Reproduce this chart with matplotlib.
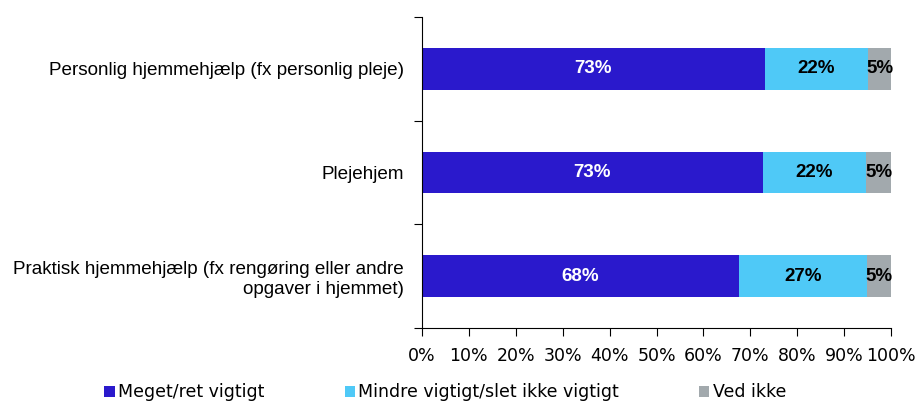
import matplotlib.pyplot as plt

# Data
categories = ['Personlig hjemmehjælp (fx personlig pleje)',
              'Plejehjem',
              'Praktisk hjemmehjælp (fx rengøring eller andre\nopgaver i hjemmet)']
meget = [73.1, 72.6, 67.6]
mindre = [22.0, 22.1, 27.3]
ved_ikke = [4.9, 5.3, 5.1]
series_names = ['Meget/ret vigtigt', 'Mindre vigtigt/slet ikke vigtigt', 'Ved ikke']
colors = ['#2A19CC', '#4FC9F7', '#A2A9AD']

plt.rcParams['font.family'] = ['Liberation Sans', 'DejaVu Sans']
tick_font = 'DejaVu Sans'

fig = plt.figure(figsize=(9.15, 4.03), dpi=100)
ax = fig.add_axes([0.4612, 0.186, 0.5126, 0.772])

y = list(range(len(categories)))
left = [0] * len(categories)
for vals, name, c in zip([meget, mindre, ved_ikke], series_names, colors):
    bars = ax.barh(y, vals, left=left, height=0.4, color=c, label=name)
    for b, v, l in zip(bars, vals, left):
        ax.text(l + v / 2, b.get_y() + b.get_height() / 2, f'{round(v)}%',
                ha='center', va='center', fontsize=13.5, fontweight='bold',
                color='white' if c == colors[0] else 'black')
    left = [a + b for a, b in zip(left, vals)]

ax.set_xlim(0, 100)
ax.set_ylim(2.5, -0.5)
ax.set_xticks(range(0, 101, 10))
ax.set_xticklabels([f'{t}%' for t in range(0, 101, 10)], fontsize=12.5, family=tick_font)
ax.set_yticks(y)
ax.set_yticklabels(categories, fontsize=13.6)
ax.set_yticks([-0.5, 0.5, 1.5, 2.5], minor=True)
ax.tick_params(axis='y', which='major', length=0, pad=13)
ax.tick_params(axis='y', which='minor', length=6, width=0.8)
ax.tick_params(axis='x', length=6, width=0.8, pad=8)
for s in ['top', 'right']:
    ax.spines[s].set_visible(False)
ax.spines['left'].set_linewidth(0.8)
ax.spines['bottom'].set_linewidth(0.8)

fig.legend(loc='lower left', bbox_to_anchor=(0.097, -0.035), ncol=3, frameon=False,
           prop={'family': tick_font, 'size': 12.5}, handlelength=0.6, handleheight=0.6,
           handletextpad=0.2, columnspacing=4.6)

fig.savefig('out.png', dpi=100)
